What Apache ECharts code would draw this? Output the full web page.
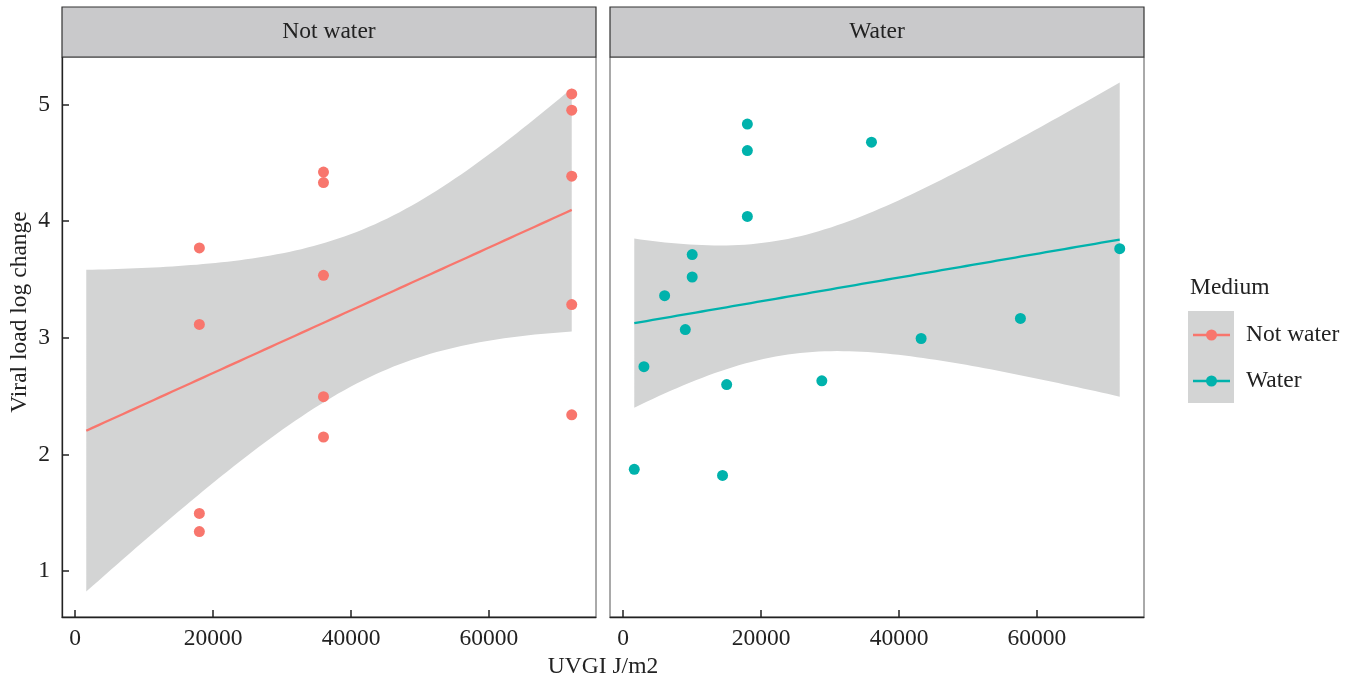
<!DOCTYPE html>
<html>
<head>
<meta charset="utf-8">
<script src="https://cdn.jsdelivr.net/npm/echarts@6/dist/echarts.min.js"></script>
<style>html,body{margin:0;padding:0;background:#fff;}#chart{width:1355px;height:680px;}</style>
</head>
<body>
<div id="chart"></div>
<script>
// ---- data ----
const panelNames = ['Not water', 'Water'];
const legendTitle = 'Medium';
const xTitle = 'UVGI J/m2';
const yTitle = 'Viral load log change';
const xTicks = [0, 20000, 40000, 60000];
const yTicks = [1, 2, 3, 4, 5];
const notWaterX = [18000, 18000, 18000, 18000, 36000, 36000, 36000, 36000, 36000, 72000, 72000, 72000, 72000, 72000];
const notWaterY = [3.77, 3.115, 1.495, 1.34, 4.42, 4.33, 3.535, 2.495, 2.15, 5.09, 4.95, 4.385, 3.285, 2.34];
const waterX = [1600, 3000, 6000, 9000, 10000, 10000, 14400, 15000, 18000, 18000, 18000, 28800, 36000, 43200, 57600, 72000];
const waterY = [1.873, 2.753, 3.361, 3.071, 3.713, 3.521, 1.821, 2.599, 4.831, 4.604, 4.040, 2.631, 4.676, 2.994, 3.166, 3.764];
const colors = ['#F8766D', '#00B2AC'];

// ---- linear fit with 95% confidence band (as geom_smooth(method = lm, fullrange = TRUE)) ----
const tQuant = {12: 2.178813, 14: 2.144787};
const allX = notWaterX.concat(waterX);
const xMinData = Math.min(...allX), xMaxData = Math.max(...allX);
function fit(xs, ys) {
  const n = xs.length;
  const xm = xs.reduce((a, b) => a + b, 0) / n;
  const ym = ys.reduce((a, b) => a + b, 0) / n;
  let sxx = 0, sxy = 0;
  for (let i = 0; i < n; i++) { sxx += (xs[i] - xm) ** 2; sxy += (xs[i] - xm) * (ys[i] - ym); }
  const b = sxy / sxx, a = ym - b * xm;
  let sse = 0;
  for (let i = 0; i < n; i++) sse += (ys[i] - a - b * xs[i]) ** 2;
  const s = Math.sqrt(sse / (n - 2));
  const t = tQuant[n - 2];
  const band = [], line = [];
  const steps = 80;
  for (let k = 0; k < steps; k++) {
    const x = xMinData + (xMaxData - xMinData) * k / (steps - 1);
    const yhat = a + b * x;
    const se = s * Math.sqrt(1 / n + (x - xm) ** 2 / sxx);
    band.push([x, yhat - t * se, yhat + t * se]);
    line.push([x, yhat]);
  }
  return {band, line};
}
const fits = [fit(notWaterX, notWaterY), fit(waterX, waterY)];
const pts = [notWaterX.map((x, i) => [x, notWaterY[i]]), waterX.map((x, i) => [x, waterY[i]])];

// axis ranges with 5% expansion like ggplot
const xPad = 0.05 * (xMaxData - xMinData);
const xMin = xMinData - xPad, xMax = xMaxData + xPad;
let yLo = Infinity, yHi = -Infinity;
[0, 1].forEach(p => {
  pts[p].forEach(d => { yLo = Math.min(yLo, d[1]); yHi = Math.max(yHi, d[1]); });
  fits[p].band.forEach(d => { yLo = Math.min(yLo, d[1]); yHi = Math.max(yHi, d[2]); });
});
const yPad = 0.05 * (yHi - yLo);
const yMin = yLo - yPad, yMax = yHi + yPad;

const FONT = "'Liberation Serif', 'Times New Roman', serif";
const FS = 23.5;
const TXT = '#222';
const grids = [
  {left: 62, top: 57, width: 534, height: 560},
  {left: 610, top: 57, width: 534, height: 560}
];

const chart = echarts.init(document.getElementById('chart'), null, {renderer: 'canvas'});

const xAxes = [0, 1].map(i => ({
  type: 'value', gridIndex: i, min: xMin, max: xMax,
  splitLine: {show: false},
  axisLine: {show: true, onZero: false, lineStyle: {color: '#222', width: 1.3}},
  axisTick: {show: true, inside: true, length: 7, lineStyle: {color: '#222', width: 1.5}, customValues: xTicks},
  axisLabel: {show: true, customValues: xTicks, margin: 10, fontFamily: FONT, fontSize: FS, color: TXT, formatter: v => String(v)}
}));
const yAxes = [0, 1].map(i => ({
  type: 'value', gridIndex: i, min: yMin, max: yMax,
  splitLine: {show: false},
  axisLine: {show: i === 0, onZero: false, lineStyle: {color: '#222', width: 1.3}},
  axisTick: {show: i === 0, inside: true, length: 7, lineStyle: {color: '#222', width: 1.5}, customValues: yTicks},
  axisLabel: {show: i === 0, customValues: yTicks, margin: 12, fontFamily: FONT, fontSize: FS, color: TXT, formatter: v => String(v)}
}));

const series = [];
[0, 1].forEach(p => {
  const band = fits[p].band;
  series.push({
    type: 'custom', xAxisIndex: p, yAxisIndex: p, silent: true, z: 1,
    data: band, encode: {x: 0, y: [1, 2]},
    clip: true,
    renderItem: function (params, api) {
      if (params.dataIndex !== 0) return null;
      const up = band.map(d => api.coord([d[0], d[2]]));
      const lo = band.map(d => api.coord([d[0], d[1]])).reverse();
      return {type: 'polygon', shape: {points: up.concat(lo)}, style: {fill: '#d3d4d4'}};
    }
  });
  series.push({
    type: 'line', xAxisIndex: p, yAxisIndex: p, data: fits[p].line, silent: true, z: 3,
    showSymbol: false, symbol: 'none', lineStyle: {color: colors[p], width: 2.3}
  });
  series.push({
    type: 'scatter', name: panelNames[p], xAxisIndex: p, yAxisIndex: p, data: pts[p], z: 4,
    symbolSize: 11, itemStyle: {color: colors[p], opacity: 1}
  });
});

const graphic = [];
grids.forEach((g, i) => {
  graphic.push({type: 'rect', shape: {x: g.left, y: 7, width: g.width, height: 50},
    style: {fill: '#c9c9cb', stroke: '#333', lineWidth: 1.2}, z: 10});
  graphic.push({type: 'text', x: g.left + g.width / 2, y: 32, z: 11,
    style: {text: panelNames[i], fill: TXT, font: FS + 'px ' + FONT, textAlign: 'center', textVerticalAlign: 'middle'}});
});
graphic.push({type: 'text', x: 603, y: 667, z: 11,
  style: {text: xTitle, fill: TXT, font: FS + 'px ' + FONT, textAlign: 'center', textVerticalAlign: 'middle'}});
graphic.push({type: 'text', x: 20, y: 312, rotation: Math.PI / 2, z: 11,
  style: {text: yTitle, fill: TXT, font: FS + 'px ' + FONT, textAlign: 'center', textVerticalAlign: 'middle'}});
// legend
graphic.push({type: 'text', x: 1190, y: 288, z: 11,
  style: {text: legendTitle, fill: TXT, font: FS + 'px ' + FONT, textAlign: 'left', textVerticalAlign: 'middle'}});
graphic.push({type: 'rect', shape: {x: 1188, y: 311, width: 46, height: 92}, style: {fill: '#d3d4d4'}, z: 10});
[0, 1].forEach(i => {
  const yy = 335 + i * 46;
  graphic.push({type: 'line', shape: {x1: 1193, y1: yy, x2: 1230, y2: yy}, style: {stroke: colors[i], lineWidth: 2.3}, z: 11});
  graphic.push({type: 'circle', shape: {cx: 1211.5, cy: yy, r: 5.5}, style: {fill: colors[i]}, z: 12});
  graphic.push({type: 'text', x: 1246, y: yy, z: 11,
    style: {text: panelNames[i], fill: TXT, font: FS + 'px ' + FONT, textAlign: 'left', textVerticalAlign: 'middle'}});
});

chart.setOption({
  animation: false,
  backgroundColor: '#fff',
  grid: grids.map(g => Object.assign({show: true, borderColor: '#555', borderWidth: 1, backgroundColor: 'transparent', containLabel: false}, g)),
  xAxis: xAxes,
  yAxis: yAxes,
  series: series,
  graphic: graphic
});
</script>
</body>
</html>
